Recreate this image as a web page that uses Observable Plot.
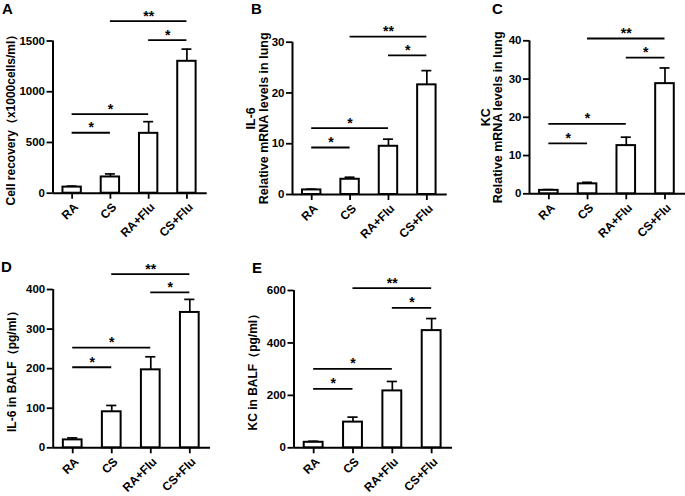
<!DOCTYPE html>
<html>
<head>
<meta charset="utf-8">
<script src="https://cdn.jsdelivr.net/npm/d3@7"></script>
<script src="https://cdn.jsdelivr.net/npm/@observablehq/plot@0.6"></script>
<style>
  html, body { margin: 0; padding: 0; background: #fff; }
  #fig { position: relative; width: 685px; height: 496px; background: #fff; overflow: hidden;
         font-family: Arial, "Liberation Sans", sans-serif; }
  #fig svg { position: absolute; }
  .letter { position: absolute; font: bold 15px Arial, "Liberation Sans", sans-serif; color: #000; }
  #fig [aria-label$="axis tick"] path, #fig [aria-label$="axis tick"] line { stroke-width: 1.8px; }
</style>
</head>
<body>
<div id="fig"></div>
<script>
// ---------- data ----------
const groups = ["RA", "CS", "RA+Flu", "CS+Flu"];

const cellRecovery    = [60, 160, 590, 1300];
const cellRecoveryErr = [10, 30, 115, 120];

const il6Lung    = [0.9, 3.0, 9.5, 21.6];
const il6LungErr = [0.15, 0.4, 1.4, 2.8];

const kcLung    = [0.9, 2.6, 12.6, 28.8];
const kcLungErr = [0.2, 0.4, 2.2, 4.1];

const il6Balf    = [20, 91, 197, 342];
const il6BalfErr = [5, 16, 33, 33];

const kcBalf    = [21, 98, 217, 447];
const kcBalfErr = [4, 19, 36, 46];

// significance comparisons (group index pairs) and their labels
const sigPairs  = [[0, 1], [0, 2], [2, 3], [1, 3]];
const sigLabels = ["*", "*", "*", "**"];
// bracket heights (in data units) per panel
const sigLevelsA = [596, 780, 1509, 1695];
const sigLevelsB = [9.26, 13.06, 27.4, 31.1];
const sigLevelsC = [13.2, 18.3, 35.6, 40.6];
const sigLevelsD = [203.5, 253, 392.6, 439];
const sigLevelsE = [225, 301, 534, 609];

// y-axis ticks
const ticksA = [0, 500, 1000, 1500];
const ticksB = [0, 10, 20, 30];
const ticksC = [0, 10, 20, 30, 40];
const ticksD = [0, 100, 200, 300, 400];
const ticksE = [0, 200, 400, 600];

const labelA = "Cell recovery（x1000cells/ml）";
const labelB = "IL-6\nRelative mRNA levels in lung";
const labelC = "KC\nRelative mRNA levels in lung";
const labelD = "IL-6 in BALF（pg/ml）";
const labelE = "KC in BALF（pg/ml）";

// ---------- drawing ----------
const xDomain = [-0.5, 3.53];
const font = "Arial, 'Liberation Sans', sans-serif";

function panel(values, errs, levels, ticks, label, lay) {
  const ymax = ticks[ticks.length - 1];
  const data = groups.map((g, i) => ({i, g, v: values[i], e: errs[i]}));
  const br = sigPairs.map(([a, b], k) => ({a, b, y: levels[k], t: sigLabels[k]}));
  const svg = Plot.plot({
    width: lay.w, height: lay.h,
    marginLeft: lay.ml, marginRight: lay.mr, marginTop: lay.mt, marginBottom: lay.mb,
    style: {fontFamily: font, fontSize: "11.5px", fontWeight: "bold", background: "transparent", overflow: "visible"},
    x: {domain: xDomain},
    y: {domain: [0, ymax]},
    marks: [
      Plot.axisY({ticks, tickSize: 6, tickPadding: 2, tickFormat: d => String(d), label: null, fontWeight: "bold", fontSize: 11.5}),
      Plot.axisX({ticks: groups.map((g, i) => i), tickSize: 6, tickFormat: () => "", label: null}),
      Plot.text(data, {x: "i", frameAnchor: "bottom", text: "g", rotate: -45, textAnchor: "end",
                       lineAnchor: "middle", dx: 4, dy: 12, fontSize: 12, fontWeight: "bold"}),
      Plot.ruleY([0], {strokeWidth: 2}),
      Plot.ruleX([xDomain[0]], {y1: 0, y2: ymax, strokeWidth: 2}),
      Plot.ruleX(data, {x: "i", y1: "v", y2: d => d.v + d.e, strokeWidth: 1.7}),
      Plot.ruleY(data, {y: d => d.v + d.e, x1: d => d.i - 0.13, x2: d => d.i + 0.13, strokeWidth: 1.7}),
      Plot.rect(data, {x1: d => d.i - 0.24, x2: d => d.i + 0.24, y1: 0, y2: "v",
                       fill: "white", stroke: "black", strokeWidth: 2}),
      Plot.ruleY(br, {y: "y", x1: "a", x2: "b", strokeWidth: 1.8}),
      Plot.text(br, {x: d => (d.a + d.b) / 2, y: "y", text: "t", dy: -5, fontSize: 14, fontWeight: "bold"}),
      Plot.text([label], {frameAnchor: "left", textAnchor: "middle", rotate: -90, dx: lay.ldx,
                          fontSize: lay.lfs, fontWeight: "bold", lineHeight: 1.0})
    ]
  });
  svg.style.left = lay.left + "px";
  svg.style.top = lay.top + "px";
  return svg;
}

const fig = document.getElementById("fig");
fig.appendChild(panel(cellRecovery, cellRecoveryErr, sigLevelsA, ticksA, labelA,
  {left: 0, top: 0, w: 225, h: 250, ml: 52.5, mr: 18.3, mt: 40.5, mb: 57.3, ldx: -41.5, lfs: 12}));
fig.appendChild(panel(il6Lung, il6LungErr, sigLevelsB, ticksB, labelB,
  {left: 225, top: 0, w: 225, h: 250, ml: 67, mr: 3.3, mt: 41.7, mb: 56, ldx: -35, lfs: 12.5}));
fig.appendChild(panel(kcLung, kcLungErr, sigLevelsC, ticksC, labelC,
  {left: 450, top: 0, w: 235, h: 250, ml: 79, mr: 0, mt: 40.3, mb: 56.7, ldx: -37.5, lfs: 12.5}));
fig.appendChild(panel(il6Balf, il6BalfErr, sigLevelsD, ticksD, labelD,
  {left: 0, top: 250, w: 225, h: 246, ml: 52.7, mr: 15, mt: 39, mb: 48.7, ldx: -40.7, lfs: 12}));
fig.appendChild(panel(kcBalf, kcBalfErr, sigLevelsE, ticksE, labelE,
  {left: 225, top: 250, w: 230, h: 246, ml: 68.5, mr: 3, mt: 40, mb: 48.7, ldx: -40.5, lfs: 12}));

const letters = [["A", 2, 0], ["B", 251, 0], ["C", 492, 0], ["D", 1, 258], ["E", 252, 259]];
for (const [t, x, y] of letters) {
  const d = document.createElement("div");
  d.className = "letter";
  d.textContent = t;
  d.style.left = x + "px";
  d.style.top = y + "px";
  fig.appendChild(d);
}
</script>
</body>
</html>
